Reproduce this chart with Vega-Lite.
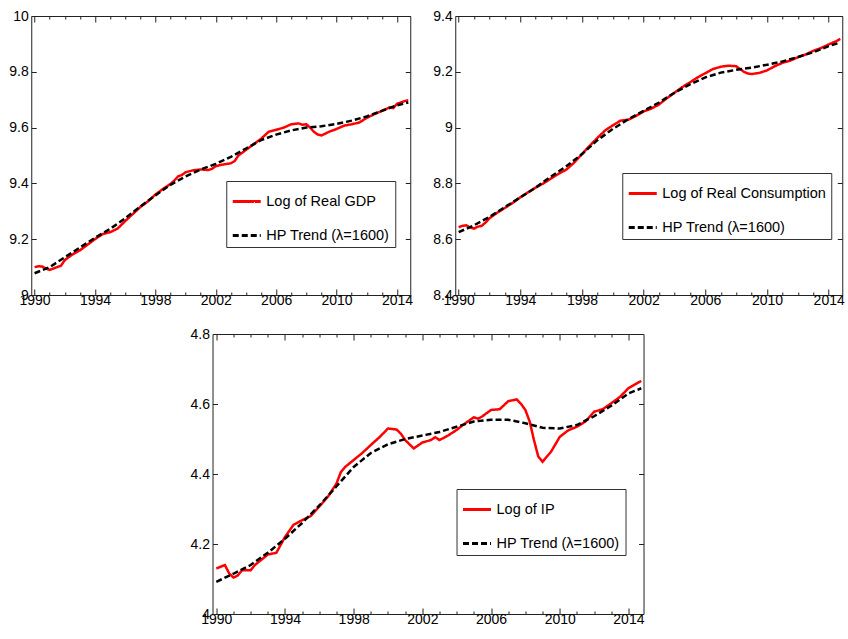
{
"$schema": "https://vega.github.io/schema/vega-lite/v6.json",
"padding": {"left": 8, "top": 8, "right": 0, "bottom": 0},
"datasets": {
"gdp": [{"t":1990,"v":9.1},{"t":1990.25,"v":9.103},{"t":1990.5,"v":9.102},{"t":1990.75,"v":9.095},{"t":1991,"v":9.09},{"t":1991.25,"v":9.095},{"t":1991.5,"v":9.1},{"t":1991.75,"v":9.105},{"t":1992,"v":9.125},{"t":1992.5,"v":9.145},{"t":1993,"v":9.16},{"t":1993.5,"v":9.18},{"t":1994,"v":9.2},{"t":1994.5,"v":9.218},{"t":1995,"v":9.225},{"t":1995.5,"v":9.238},{"t":1996,"v":9.265},{"t":1996.5,"v":9.29},{"t":1997,"v":9.315},{"t":1997.5,"v":9.335},{"t":1998,"v":9.36},{"t":1998.5,"v":9.38},{"t":1999,"v":9.398},{"t":1999.25,"v":9.41},{"t":1999.5,"v":9.425},{"t":1999.75,"v":9.43},{"t":2000,"v":9.44},{"t":2000.5,"v":9.447},{"t":2001,"v":9.45},{"t":2001.5,"v":9.448},{"t":2001.75,"v":9.452},{"t":2002,"v":9.462},{"t":2002.5,"v":9.468},{"t":2003,"v":9.472},{"t":2003.25,"v":9.48},{"t":2003.5,"v":9.5},{"t":2004,"v":9.52},{"t":2004.5,"v":9.54},{"t":2005,"v":9.56},{"t":2005.5,"v":9.585},{"t":2006,"v":9.592},{"t":2006.5,"v":9.6},{"t":2007,"v":9.612},{"t":2007.5,"v":9.615},{"t":2007.75,"v":9.61},{"t":2008,"v":9.612},{"t":2008.25,"v":9.6},{"t":2008.5,"v":9.585},{"t":2008.75,"v":9.575},{"t":2009,"v":9.572},{"t":2009.25,"v":9.578},{"t":2009.5,"v":9.585},{"t":2010,"v":9.595},{"t":2010.5,"v":9.607},{"t":2011,"v":9.612},{"t":2011.5,"v":9.618},{"t":2012,"v":9.635},{"t":2012.5,"v":9.648},{"t":2013,"v":9.66},{"t":2013.5,"v":9.672},{"t":2013.75,"v":9.67},{"t":2014,"v":9.685},{"t":2014.5,"v":9.695},{"t":2014.75,"v":9.698}],
"gdpT": [{"t":1990,"v":9.078},{"t":1991,"v":9.1},{"t":1992,"v":9.135},{"t":1993,"v":9.17},{"t":1994,"v":9.205},{"t":1995,"v":9.237},{"t":1996,"v":9.275},{"t":1997,"v":9.317},{"t":1998,"v":9.357},{"t":1999,"v":9.395},{"t":2000,"v":9.425},{"t":2001,"v":9.45},{"t":2002,"v":9.47},{"t":2003,"v":9.495},{"t":2004,"v":9.525},{"t":2005,"v":9.555},{"t":2006,"v":9.575},{"t":2007,"v":9.59},{"t":2008,"v":9.6},{"t":2009,"v":9.605},{"t":2010,"v":9.613},{"t":2011,"v":9.625},{"t":2012,"v":9.64},{"t":2013,"v":9.66},{"t":2014,"v":9.68},{"t":2014.75,"v":9.69}],
"con": [{"t":1990,"v":8.643},{"t":1990.25,"v":8.648},{"t":1990.5,"v":8.65},{"t":1990.75,"v":8.642},{"t":1991,"v":8.638},{"t":1991.25,"v":8.645},{"t":1991.5,"v":8.648},{"t":1991.75,"v":8.66},{"t":1992,"v":8.675},{"t":1992.5,"v":8.695},{"t":1993,"v":8.712},{"t":1993.5,"v":8.73},{"t":1994,"v":8.75},{"t":1994.5,"v":8.768},{"t":1995,"v":8.785},{"t":1995.5,"v":8.8},{"t":1996,"v":8.818},{"t":1996.5,"v":8.835},{"t":1997,"v":8.85},{"t":1997.5,"v":8.875},{"t":1998,"v":8.905},{"t":1998.5,"v":8.935},{"t":1999,"v":8.963},{"t":1999.5,"v":8.99},{"t":2000,"v":9.008},{"t":2000.5,"v":9.025},{"t":2001,"v":9.028},{"t":2001.5,"v":9.042},{"t":2002,"v":9.058},{"t":2002.5,"v":9.068},{"t":2003,"v":9.083},{"t":2003.5,"v":9.105},{"t":2004,"v":9.125},{"t":2004.5,"v":9.145},{"t":2005,"v":9.162},{"t":2005.5,"v":9.18},{"t":2006,"v":9.195},{"t":2006.5,"v":9.21},{"t":2007,"v":9.218},{"t":2007.5,"v":9.222},{"t":2008,"v":9.22},{"t":2008.25,"v":9.21},{"t":2008.5,"v":9.2},{"t":2008.75,"v":9.194},{"t":2009,"v":9.192},{"t":2009.5,"v":9.196},{"t":2010,"v":9.205},{"t":2010.5,"v":9.22},{"t":2011,"v":9.232},{"t":2011.5,"v":9.24},{"t":2012,"v":9.252},{"t":2012.5,"v":9.262},{"t":2013,"v":9.275},{"t":2013.5,"v":9.285},{"t":2014,"v":9.298},{"t":2014.5,"v":9.31},{"t":2014.75,"v":9.318}],
"conT": [{"t":1990,"v":8.625},{"t":1991,"v":8.65},{"t":1992,"v":8.68},{"t":1993,"v":8.715},{"t":1994,"v":8.75},{"t":1995,"v":8.785},{"t":1996,"v":8.825},{"t":1997,"v":8.862},{"t":1998,"v":8.905},{"t":1999,"v":8.955},{"t":2000,"v":8.995},{"t":2001,"v":9.03},{"t":2002,"v":9.06},{"t":2003,"v":9.09},{"t":2004,"v":9.125},{"t":2005,"v":9.155},{"t":2006,"v":9.18},{"t":2007,"v":9.197},{"t":2008,"v":9.207},{"t":2009,"v":9.215},{"t":2010,"v":9.225},{"t":2011,"v":9.237},{"t":2012,"v":9.253},{"t":2013,"v":9.27},{"t":2014,"v":9.292},{"t":2014.75,"v":9.305}],
"ip": [{"t":1990,"v":4.13},{"t":1990.25,"v":4.135},{"t":1990.5,"v":4.14},{"t":1990.75,"v":4.116},{"t":1991,"v":4.104},{"t":1991.25,"v":4.11},{"t":1991.5,"v":4.125},{"t":1992,"v":4.125},{"t":1992.25,"v":4.14},{"t":1992.75,"v":4.16},{"t":1993,"v":4.17},{"t":1993.5,"v":4.175},{"t":1994,"v":4.22},{"t":1994.5,"v":4.255},{"t":1995,"v":4.268},{"t":1995.5,"v":4.28},{"t":1996,"v":4.307},{"t":1996.5,"v":4.335},{"t":1997,"v":4.373},{"t":1997.25,"v":4.405},{"t":1997.5,"v":4.42},{"t":1998,"v":4.44},{"t":1998.5,"v":4.46},{"t":1999,"v":4.483},{"t":1999.5,"v":4.505},{"t":2000,"v":4.53},{"t":2000.5,"v":4.527},{"t":2000.75,"v":4.515},{"t":2001,"v":4.497},{"t":2001.5,"v":4.473},{"t":2002,"v":4.49},{"t":2002.5,"v":4.497},{"t":2002.75,"v":4.505},{"t":2003,"v":4.497},{"t":2003.5,"v":4.51},{"t":2004,"v":4.526},{"t":2004.5,"v":4.545},{"t":2005,"v":4.562},{"t":2005.25,"v":4.558},{"t":2005.5,"v":4.565},{"t":2006,"v":4.583},{"t":2006.5,"v":4.585},{"t":2007,"v":4.608},{"t":2007.5,"v":4.613},{"t":2007.75,"v":4.6},{"t":2008,"v":4.583},{"t":2008.25,"v":4.55},{"t":2008.5,"v":4.497},{"t":2008.75,"v":4.45},{"t":2009,"v":4.435},{"t":2009.5,"v":4.464},{"t":2010,"v":4.506},{"t":2010.5,"v":4.525},{"t":2011,"v":4.535},{"t":2011.5,"v":4.55},{"t":2012,"v":4.578},{"t":2012.5,"v":4.585},{"t":2013,"v":4.602},{"t":2013.5,"v":4.62},{"t":2014,"v":4.645},{"t":2014.75,"v":4.666}],
"ipT": [{"t":1990,"v":4.092},{"t":1991,"v":4.115},{"t":1992,"v":4.14},{"t":1993,"v":4.175},{"t":1994,"v":4.215},{"t":1995,"v":4.26},{"t":1996,"v":4.31},{"t":1997,"v":4.365},{"t":1998,"v":4.42},{"t":1999,"v":4.46},{"t":2000,"v":4.485},{"t":2001,"v":4.5},{"t":2002,"v":4.51},{"t":2003,"v":4.52},{"t":2004,"v":4.535},{"t":2005,"v":4.55},{"t":2006,"v":4.555},{"t":2007,"v":4.555},{"t":2008,"v":4.545},{"t":2009,"v":4.532},{"t":2010,"v":4.53},{"t":2011,"v":4.54},{"t":2012,"v":4.565},{"t":2013,"v":4.595},{"t":2014,"v":4.63},{"t":2014.75,"v":4.645}]
},
"vconcat": [
{"hconcat": [
{"width": 379, "height": 279,
"layer": [
{"data": {"name": "gdp"}, "mark": {"type": "line", "strokeWidth": 2.5},
"encoding": {
"x": {"field": "t", "type": "quantitative", "scale": {"domain": [1989.78, 2014.88], "nice": false, "zero": false}, "axis": {"orient": "bottom", "title": null, "values": [1990,1991,1992,1993,1994,1995,1996,1997,1998,1999,2000,2001,2002,2003,2004,2005,2006,2007,2008,2009,2010,2011,2012,2013,2014], "labelExpr": "datum.value % 4 == 2 ? toString(datum.value) : ''", "tickSize": {"condition": {"test": "datum.value % 4 == 2", "value": -6}, "value": -3}, "labelPadding": 4}},
"y": {"field": "v", "type": "quantitative", "scale": {"domain": [9, 10], "nice": false, "zero": false}, "axis": {"orient": "left", "title": null, "values": [9, 9.2, 9.4, 9.6, 9.8, 10], "format": "~g", "tickSize": -5, "labelPadding": 8}},
"color": {"datum": "Log of Real GDP", "scale": {"domain": ["Log of Real GDP", "HP Trend (λ=1600)"], "range": ["#ff0000", "#000000"]}, "legend": {"legendX": 195, "legendY": 165}},
"strokeDash": {"datum": "Log of Real GDP", "scale": {"domain": ["Log of Real GDP", "HP Trend (λ=1600)"], "range": [[1, 0], [6, 3]]}, "legend": {"legendX": 195, "legendY": 165}}
}},
{"data": {"name": "gdpT"}, "mark": {"type": "line", "strokeWidth": 2.5},
"encoding": {
"x": {"field": "t", "type": "quantitative", "axis": {"orient": "top", "title": null, "labels": false, "values": [1990,1991,1992,1993,1994,1995,1996,1997,1998,1999,2000,2001,2002,2003,2004,2005,2006,2007,2008,2009,2010,2011,2012,2013,2014], "tickSize": {"condition": {"test": "datum.value % 4 == 2", "value": -6}, "value": -3}}},
"y": {"field": "v", "type": "quantitative", "axis": {"orient": "right", "title": null, "labels": false, "values": [9, 9.2, 9.4, 9.6, 9.8, 10], "tickSize": -5}},
"color": {"datum": "HP Trend (λ=1600)", "legend": {"legendX": 195, "legendY": 165}},
"strokeDash": {"datum": "HP Trend (λ=1600)", "legend": {"legendX": 195, "legendY": 165}}
}}
],
"resolve": {"axis": {"x": "independent", "y": "independent"}}
},
{"width": 387, "height": 279,
"layer": [
{"data": {"name": "con"}, "mark": {"type": "line", "strokeWidth": 2.5},
"encoding": {
"x": {"field": "t", "type": "quantitative", "scale": {"domain": [1989.78, 2014.88], "nice": false, "zero": false}, "axis": {"orient": "bottom", "title": null, "values": [1990,1991,1992,1993,1994,1995,1996,1997,1998,1999,2000,2001,2002,2003,2004,2005,2006,2007,2008,2009,2010,2011,2012,2013,2014], "labelExpr": "datum.value % 4 == 2 ? toString(datum.value) : ''", "tickSize": {"condition": {"test": "datum.value % 4 == 2", "value": -6}, "value": -3}, "labelPadding": 4}},
"y": {"field": "v", "type": "quantitative", "scale": {"domain": [8.4, 9.4], "nice": false, "zero": false}, "axis": {"orient": "left", "title": null, "values": [8.4, 8.6, 8.8, 9, 9.2, 9.4], "format": "~g", "tickSize": -5, "labelPadding": 8}},
"color": {"datum": "Log of Real Consumption", "scale": {"domain": ["Log of Real Consumption", "HP Trend (λ=1600)"], "range": ["#ff0000", "#000000"]}, "legend": {"legendX": 167, "legendY": 157}},
"strokeDash": {"datum": "Log of Real Consumption", "scale": {"domain": ["Log of Real Consumption", "HP Trend (λ=1600)"], "range": [[1, 0], [6, 3]]}, "legend": {"legendX": 167, "legendY": 157}}
}},
{"data": {"name": "conT"}, "mark": {"type": "line", "strokeWidth": 2.5},
"encoding": {
"x": {"field": "t", "type": "quantitative", "axis": {"orient": "top", "title": null, "labels": false, "values": [1990,1991,1992,1993,1994,1995,1996,1997,1998,1999,2000,2001,2002,2003,2004,2005,2006,2007,2008,2009,2010,2011,2012,2013,2014], "tickSize": {"condition": {"test": "datum.value % 4 == 2", "value": -6}, "value": -3}}},
"y": {"field": "v", "type": "quantitative", "axis": {"orient": "right", "title": null, "labels": false, "values": [8.4, 8.6, 8.8, 9, 9.2, 9.4], "tickSize": -5}},
"color": {"datum": "HP Trend (λ=1600)", "legend": {"legendX": 167, "legendY": 157}},
"strokeDash": {"datum": "HP Trend (λ=1600)", "legend": {"legendX": 167, "legendY": 157}}
}}
],
"resolve": {"axis": {"x": "independent", "y": "independent"}}
}
],
"spacing": 18,
"resolve": {"scale": {"color": "independent", "strokeDash": "independent"}, "legend": {"color": "independent", "strokeDash": "independent"}}
},
{"width": 431, "height": 280,
"layer": [
{"data": {"name": "ip"}, "mark": {"type": "line", "strokeWidth": 2.5},
"encoding": {
"x": {"field": "t", "type": "quantitative", "scale": {"domain": [1989.78, 2014.88], "nice": false, "zero": false}, "axis": {"orient": "bottom", "title": null, "values": [1990,1991,1992,1993,1994,1995,1996,1997,1998,1999,2000,2001,2002,2003,2004,2005,2006,2007,2008,2009,2010,2011,2012,2013,2014], "labelExpr": "datum.value % 4 == 2 ? toString(datum.value) : ''", "tickSize": {"condition": {"test": "datum.value % 4 == 2", "value": -6}, "value": -3}, "labelPadding": 4}},
"y": {"field": "v", "type": "quantitative", "scale": {"domain": [4, 4.8], "nice": false, "zero": false}, "axis": {"orient": "left", "title": null, "values": [4, 4.2, 4.4, 4.6, 4.8], "format": "~g", "tickSize": -5, "labelPadding": 8}},
"color": {"datum": "Log of IP", "scale": {"domain": ["Log of IP", "HP Trend (λ=1600)"], "range": ["#ff0000", "#000000"]}, "legend": {"legendX": 244, "legendY": 155}},
"strokeDash": {"datum": "Log of IP", "scale": {"domain": ["Log of IP", "HP Trend (λ=1600)"], "range": [[1, 0], [6, 3]]}, "legend": {"legendX": 244, "legendY": 155}}
}},
{"data": {"name": "ipT"}, "mark": {"type": "line", "strokeWidth": 2.5},
"encoding": {
"x": {"field": "t", "type": "quantitative", "axis": {"orient": "top", "title": null, "labels": false, "values": [1990,1991,1992,1993,1994,1995,1996,1997,1998,1999,2000,2001,2002,2003,2004,2005,2006,2007,2008,2009,2010,2011,2012,2013,2014], "tickSize": {"condition": {"test": "datum.value % 4 == 2", "value": -6}, "value": -3}}},
"y": {"field": "v", "type": "quantitative", "axis": {"orient": "right", "title": null, "labels": true, "labelOpacity": 0, "values": [4, 4.2, 4.4, 4.6, 4.8], "format": "~g", "tickSize": -5, "labelPadding": 6}},
"color": {"datum": "HP Trend (λ=1600)", "legend": {"legendX": 244, "legendY": 155}},
"strokeDash": {"datum": "HP Trend (λ=1600)", "legend": {"legendX": 244, "legendY": 155}}
}}
],
"resolve": {"axis": {"x": "independent", "y": "independent"}}
}
],
"spacing": 15,
"center": true,
"resolve": {"scale": {"color": "independent", "strokeDash": "independent"}, "legend": {"color": "independent", "strokeDash": "independent"}},
"config": {
"view": {"stroke": "#222", "strokeWidth": 1},
"axis": {"domain": false, "grid": false, "labelFont": "Liberation Sans", "labelFontSize": 14, "labelColor": "#000", "tickColor": "#222", "tickWidth": 1, "labelFlush": false, "labelOverlap": false, "labelBound": false},
"legend": {"orient": "none", "title": null, "strokeColor": "#333", "fillColor": "#fff", "padding": 5, "symbolType": "stroke", "symbolSize": 784, "symbolStrokeWidth": 2.8, "labelFont": "Liberation Sans", "labelFontSize": 14.5, "labelColor": "#000", "rowPadding": 12, "labelOffset": 4, "labelLimit": 400}
}
}
